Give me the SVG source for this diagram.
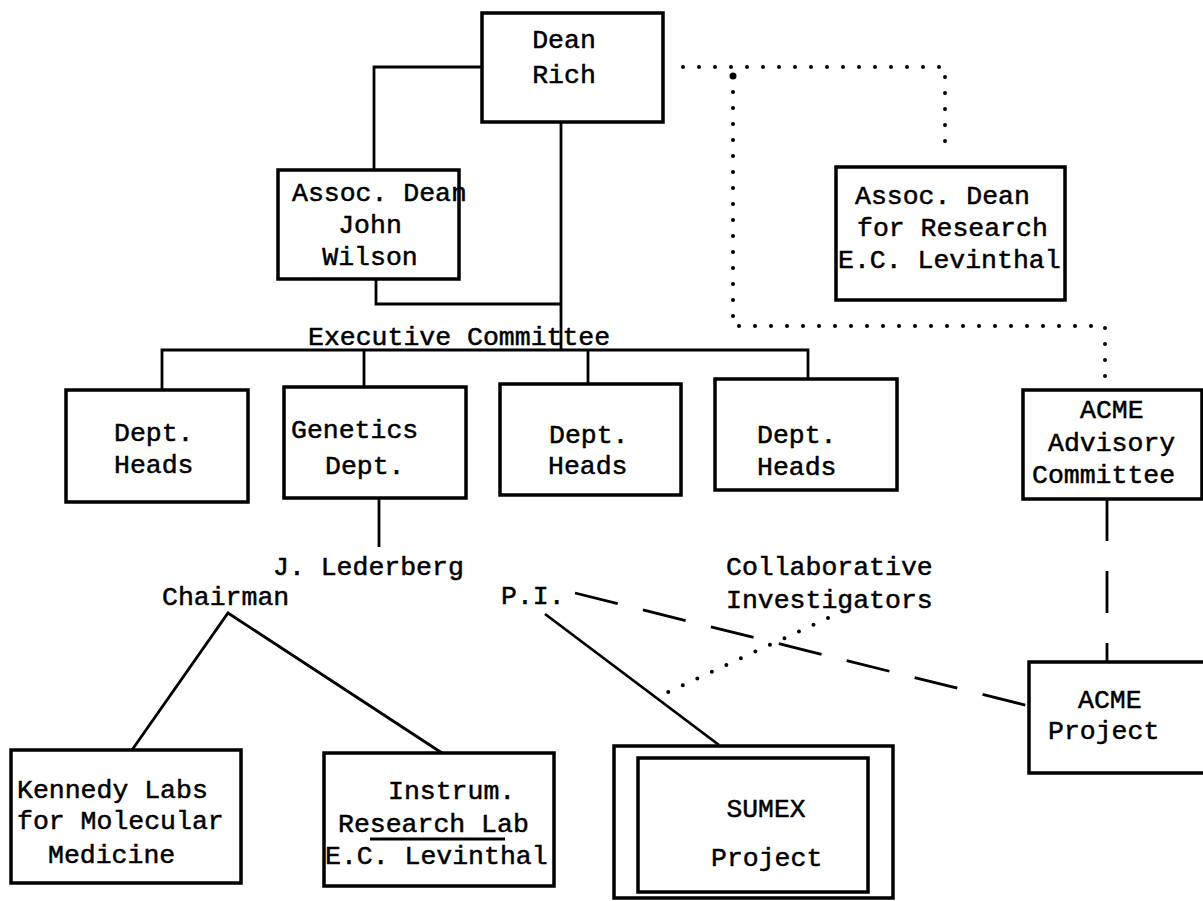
<svg xmlns="http://www.w3.org/2000/svg" width="1203" height="901" viewBox="0 0 1203 901">
<style>
.box{fill:#fff;stroke:#000;stroke-width:3.5}
.ln{fill:none;stroke:#000;stroke-width:2.8}
.dot{fill:none;stroke:#000;stroke-width:4;stroke-linecap:round;stroke-dasharray:0 16}
.dash{fill:none;stroke:#000;stroke-width:2.8}
text{font-family:"Liberation Mono","Courier New",monospace;font-size:26.5px;fill:#000;stroke:#000;stroke-width:0.5}
</style>
<rect width="1203" height="901" fill="#fff"/>
<g id="connectors">
<path class="ln" d="M482,67 H374 V170"/>
<path class="ln" d="M561,122 V350"/>
<path class="ln" d="M376,279 V304 H561"/>
<path class="ln" d="M162,389 V350 H808 V379"/>
<path class="ln" d="M364,350 V387"/>
<path class="ln" d="M588,350 V384"/>
<path class="ln" d="M379,498 V547"/>
<path class="ln" d="M132,750 L228,613 L442,753"/>
<path class="ln" d="M545,614 L719,745"/>
<path class="dash" stroke-dasharray="44 26" d="M575,593 L1029,706"/>
<path class="dash" stroke-dasharray="42 30" d="M1107,499 V662"/>
<path class="dot" d="M828,618 L668,692"/>
<path class="dot" d="M683,67 H945 V155"/>
<path class="dot" d="M733,76 V326 H1105 V380"/>
<circle cx="733" cy="76" r="3.5"/>
</g>
<g id="dean">
<rect class="box" x="482" y="13" width="181" height="109"/>
<text x="564" y="48" text-anchor="middle">Dean</text>
<text x="564" y="83" text-anchor="middle">Rich</text>
</g>
<g id="assoc-dean">
<rect class="box" x="278" y="170" width="181" height="109"/>
<text x="292" y="201">Assoc. Dean</text>
<text x="370" y="233" text-anchor="middle">John</text>
<text x="370" y="265" text-anchor="middle">Wilson</text>
</g>
<g id="assoc-dean-research">
<rect class="box" x="836" y="167" width="229" height="133"/>
<text x="855" y="204">Assoc. Dean</text>
<text x="857" y="236">for Research</text>
<text x="838" y="268">E.C. Levinthal</text>
</g>
<g id="exec">
<text x="308" y="345">Executive Committee</text>
</g>
<g id="dept1">
<rect class="box" x="66" y="390" width="182" height="112"/>
<text x="114" y="441">Dept.</text>
<text x="114" y="473">Heads</text>
</g>
<g id="genetics">
<rect class="box" x="284" y="387" width="182" height="111"/>
<text x="291" y="438">Genetics</text>
<text x="325" y="474">Dept.</text>
</g>
<g id="dept2">
<rect class="box" x="500" y="384" width="181" height="111"/>
<text x="549" y="443">Dept.</text>
<text x="548" y="474">Heads</text>
</g>
<g id="dept3">
<rect class="box" x="715" y="379" width="182" height="111"/>
<text x="757" y="443">Dept.</text>
<text x="757" y="475">Heads</text>
</g>
<g id="acme-advisory">
<rect class="box" x="1023" y="390" width="179" height="109"/>
<text x="1080" y="418">ACME</text>
<text x="1048" y="451">Advisory</text>
<text x="1032" y="483">Committee</text>
</g>
<g id="lederberg">
<text x="273" y="575">J. Lederberg</text>
<text x="162" y="605">Chairman</text>
</g>
<g id="pi">
<text x="501" y="604">P.I.</text>
</g>
<g id="collab">
<text x="726" y="575">Collaborative</text>
<text x="726" y="608">Investigators</text>
</g>
<g id="kennedy">
<rect class="box" x="11" y="750" width="230" height="133"/>
<text x="17" y="798">Kennedy Labs</text>
<text x="17" y="829">for Molecular</text>
<text x="48" y="863">Medicine</text>
</g>
<g id="instrum">
<rect class="box" x="324" y="753" width="230" height="133"/>
<text x="388" y="799">Instrum.</text>
<text x="338" y="832">Research Lab</text>
<path class="ln" d="M370,839 H505" stroke-width="2.5"/>
<text x="325" y="864">E.C. Levinthal</text>
</g>
<g id="sumex">
<rect class="box" x="614" y="746" width="279" height="152"/>
<rect class="box" x="638" y="758" width="230" height="134"/>
<text x="766" y="817" text-anchor="middle" textLength="79" lengthAdjust="spacingAndGlyphs">SUMEX</text>
<text x="711" y="866">Project</text>
</g>
<g id="acme-project">
<rect class="box" x="1029" y="662" width="176" height="111"/>
<text x="1078" y="708">ACME</text>
<text x="1048" y="739">Project</text>
</g>
</svg>
